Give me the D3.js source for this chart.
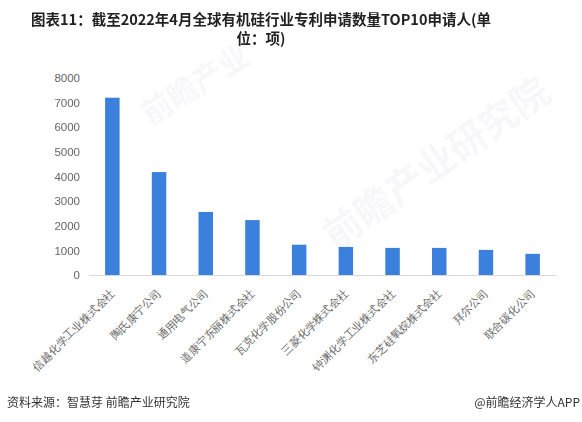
<!DOCTYPE html>
<html><head><meta charset="utf-8">
<script src="https://cdn.jsdelivr.net/npm/d3@7"></script>
<style>body{margin:0;background:#fff;} svg{display:block;font-family:"Noto Sans CJK SC","Noto Sans",sans-serif;}</style>
</head><body>
<svg id="c" width="582" height="422"></svg>
<script>
const categories = ["信越化学工业株式会社","陶氏康宁公司","通用电气公司","道康宁东丽株式会社","瓦克化学股份公司","三菱化学株式会社","钟渊化学工业株式会社","东芝硅氧烷株式会社","拜尔公司","联合碳化公司"];
const values = [7200, 4180, 2560, 2230, 1230, 1140, 1100, 1100, 1020, 860];
const yTicks = [0,1000,2000,3000,4000,5000,6000,7000,8000];
const titleLines = ["图表11：截至2022年4月全球有机硅行业专利申请数量TOP10申请人(单","位：项)"];
const source = "资料来源：智慧芽 前瞻产业研究院";
const credit = "@前瞻经济学人APP";

const svg = d3.select("#c");
// watermarks
const wm = svg.append("g").attr("fill","#c9ced6").attr("opacity",0.16).attr("font-weight","bold");
wm.append("text").attr("transform","translate(150,125) rotate(-32)").attr("font-size",30).text("前瞻产业");
wm.append("text").attr("transform","translate(335,250) rotate(-35)").attr("font-size",38).text("前瞻产业研究院");

const x = d3.scaleBand().domain(categories).range([89,556]).paddingInner(0.69).paddingOuter(0.345);
const y = d3.scaleLinear().domain([0,8000]).range([275,78]);

svg.append("g").selectAll("rect").data(values).join("rect")
  .attr("x",(d,i)=>x(categories[i])).attr("width",x.bandwidth())
  .attr("y",d=>y(d)).attr("height",d=>y(0)-y(d)).attr("fill","#3b80dd");

const ya = svg.append("g").attr("transform","translate(80,0)")
  .call(d3.axisLeft(y).tickValues(yTicks).tickSize(0).tickPadding(0).tickFormat(d3.format("d")));
ya.select(".domain").remove();
ya.selectAll("text").attr("font-size",11.5).attr("fill","#666").attr("font-family","Liberation Sans, Arial, sans-serif");

const xa = svg.append("g").attr("transform","translate(0,275)")
  .call(d3.axisBottom(x).tickSize(0).tickPadding(0));
xa.select(".domain").attr("stroke","#d9d9d9");
xa.selectAll("text").attr("font-size",11).attr("fill","#666")
  .attr("text-anchor","end").attr("dy","0.35em")
  .attr("transform","translate(0,16) rotate(-45)");

const t = svg.append("g").attr("font-weight","bold").attr("font-size",14.5).attr("fill","#222").attr("text-anchor","middle");
titleLines.forEach((s,i)=>t.append("text").attr("x",261).attr("y",25+i*19).text(s));

svg.append("text").attr("x",7).attr("y",407).attr("font-size",12).attr("fill","#333").text(source);
svg.append("text").attr("x",580).attr("y",407).attr("font-size",12).attr("fill","#333").attr("text-anchor","end").text(credit);
</script>
</body></html>
